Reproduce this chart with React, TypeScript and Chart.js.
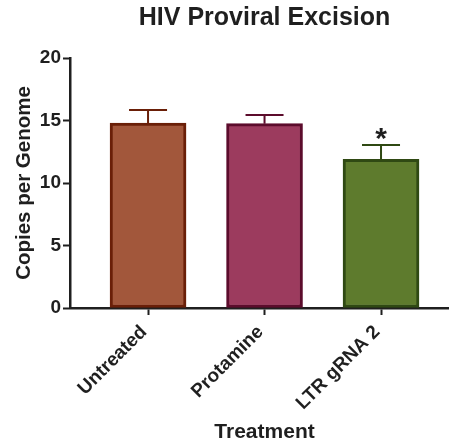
import { useEffect, useRef } from "react";
import { Chart, registerables } from "chart.js";

Chart.register(...registerables);

// Treatment groups and measured proviral copies per genome (mean with upper error)
const categories = ["Untreated", "Protamine", "LTR gRNA 2"];
const means = [14.8, 14.75, 11.9];
const errors = [1.05, 0.7, 1.15];
const significance = ["", "", "*"];
const yTicks = [0, 5, 10, 15, 20];

const fillColors = ["#A2573B", "#9C3B5E", "#5E7B2D"];
const edgeColors = ["#6A1F08", "#5C0C2C", "#2F4913"];

const chartTitle = "HIV Proviral Excision";
const xTitle = "Treatment";
const yTitle = "Copies per Genome";

const FONT = '"Liberation Sans", Arial, Helvetica, sans-serif';
const INK = "#1f1f1f";

// Upward error bars with caps, plus significance markers above them
const errorBarPlugin = {
  id: "errorBars",
  afterDatasetsDraw(chart: any) {
    const { ctx } = chart;
    const yScale = chart.scales.y;
    const meta = chart.getDatasetMeta(0);
    meta.data.forEach((bar: any, i: number) => {
      const top = yScale.getPixelForValue(means[i] + errors[i]);
      const x = bar.x;
      ctx.save();
      ctx.strokeStyle = edgeColors[i];
      ctx.lineWidth = 2;
      ctx.beginPath();
      ctx.moveTo(x, bar.y);
      ctx.lineTo(x, top);
      ctx.moveTo(x - 19, top);
      ctx.lineTo(x + 19, top);
      ctx.stroke();
      if (significance[i]) {
        ctx.fillStyle = INK;
        ctx.font = `bold 30px ${FONT}`;
        ctx.textAlign = "center";
        ctx.textBaseline = "alphabetic";
        ctx.fillText(significance[i], x, top + 3);
      }
      ctx.restore();
    });
  },
};

// Chart title and x-axis title, centred over the span of the bars
const titlesPlugin = {
  id: "titles",
  afterDraw(chart: any) {
    const { ctx } = chart;
    const xScale = chart.scales.x;
    const cx =
      (xScale.getPixelForValue(0) + xScale.getPixelForValue(categories.length - 1)) / 2;
    ctx.save();
    ctx.fillStyle = INK;
    ctx.textAlign = "center";
    ctx.textBaseline = "middle";
    ctx.font = `bold 25px ${FONT}`;
    ctx.fillText(chartTitle, cx, 18);
    ctx.font = `bold 21px ${FONT}`;
    ctx.fillText(xTitle, cx, 432.5);
    ctx.restore();
  },
};

export default function App() {
  const canvasRef = useRef<HTMLCanvasElement | null>(null);

  useEffect(() => {
    if (!canvasRef.current) return;
    Chart.defaults.font.family = FONT;
    const chart = new Chart(canvasRef.current, {
      type: "bar",
      data: {
        datasets: [
          {
            data: means.map((v, i) => ({ x: i, y: v })),
            backgroundColor: fillColors,
            borderColor: edgeColors,
            borderWidth: 3,
            borderSkipped: false,
            barThickness: 76,
          },
        ],
      },
      options: {
        responsive: false,
        animation: false,
        devicePixelRatio: 1,
        layout: { padding: { top: 58, right: 1, bottom: 0, left: 0 } },
        plugins: {
          legend: { display: false },
          title: { display: false },
          tooltip: { enabled: false },
        },
        scales: {
          x: {
            type: "linear",
            offset: false,
            min: -0.67,
            max: 2.575,
            afterBuildTicks: (scale: any) => {
              scale.ticks = categories.map((_, i) => ({ value: i }));
            },
            afterFit: (scale: any) => {
              scale.height = 140;
            },
            ticks: {
              autoSkip: false,
              minRotation: 45,
              maxRotation: 45,
              padding: 6,
              labelOffset: -4,
              color: INK,
              font: { size: 19, weight: "bold" },
              callback: (v: any) => categories[v as number] ?? "",
            },
            grid: {
              display: true,
              offset: false,
              drawOnChartArea: false,
              drawTicks: true,
              tickLength: 7,
              tickWidth: 2,
              tickColor: INK,
            },
            border: { display: true, color: INK, width: 2.5 },
          },
          y: {
            min: yTicks[0],
            max: yTicks[yTicks.length - 1],
            afterBuildTicks: (scale: any) => {
              scale.ticks = yTicks.map((v) => ({ value: v }));
            },
            afterFit: (scale: any) => {
              scale.width = 70;
            },
            ticks: {
              padding: 2,
              color: INK,
              font: { size: 19, weight: "bold" },
            },
            grid: {
              display: true,
              drawOnChartArea: false,
              drawTicks: true,
              tickLength: 7,
              tickWidth: 2,
              tickColor: INK,
            },
            border: { display: true, color: INK, width: 2.5 },
            title: {
              display: true,
              text: yTitle,
              color: INK,
              font: { size: 20.5, weight: "bold" },
              padding: { top: 12, bottom: 0 },
            },
          },
        },
      },
      plugins: [errorBarPlugin, titlesPlugin],
    } as any);
    return () => chart.destroy();
  }, []);

  return (
    <div style={{ position: "absolute", left: 0, top: 0, width: 449, height: 448, background: "#fff" }}>
      <canvas ref={canvasRef} width={449} height={448} />
    </div>
  );
}
